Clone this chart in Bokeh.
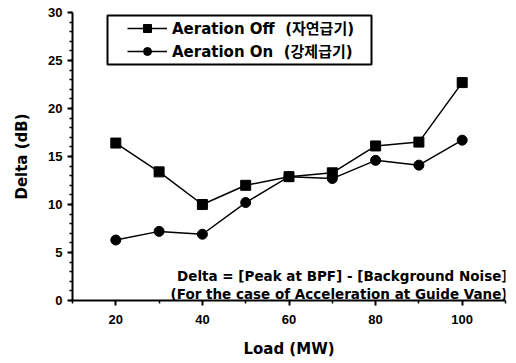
from bokeh.plotting import figure
from bokeh.models import Range1d, FixedTicker, Legend, LegendItem, Label, BoxAnnotation
from bokeh.embed import file_html
from bokeh.resources import INLINE

load = [20, 30, 40, 50, 60, 70, 80, 90, 100]
aeration_off = [16.4, 13.4, 10.0, 12.0, 12.9, 13.3, 16.1, 16.5, 22.7]
aeration_on = [6.3, 7.2, 6.9, 10.2, 12.9, 12.7, 14.6, 14.1, 16.7]
x_ticks = [20, 40, 60, 80, 100]
y_ticks = [0, 5, 10, 15, 20, 25, 30]
label_off = "Aeration Off  (자연급기)"
label_on = "Aeration On  (강제급기)"
note1 = "Delta = [Peak at BPF] - [Background Noise]"
note2 = "(For the case of Acceleration at Guide Vane)"

FONT = "DejaVu Sans, Noto Sans CJK KR, sans-serif"
TICKFONT = "Liberation Sans, Arial, sans-serif"

p = figure(width=516, height=363, output_backend="svg", toolbar_location=None,
           x_range=Range1d(10, 110), y_range=Range1d(0, 30),
           min_border_left=72, min_border_right=11, min_border_top=12, min_border_bottom=63)
p.outline_line_color = None
p.grid.visible = False

p.xaxis.ticker = FixedTicker(ticks=x_ticks, minor_ticks=[10, 30, 50, 70, 90, 110])
p.yaxis.ticker = FixedTicker(ticks=y_ticks, minor_ticks=[i for i in range(0, 31)])
for ax in (p.xaxis[0], p.yaxis[0]):
    ax.axis_line_width = 2
    ax.axis_line_color = "black"
    ax.major_tick_line_width = 2
    ax.major_tick_out = 5
    ax.major_tick_in = 0
    ax.minor_tick_out = 3
    ax.minor_tick_in = 0
    ax.minor_tick_line_width = 1.5
    ax.major_label_text_font = TICKFONT
    ax.major_label_text_font_style = "bold"
    ax.major_label_text_font_size = "13px"
    ax.major_label_text_color = "black"
    ax.axis_label_text_font = FONT
    ax.axis_label_text_font_style = "bold"
    ax.axis_label_text_font_size = "15px"
    ax.axis_label_text_color = "black"
p.xaxis.axis_label = "Load (MW)"
p.yaxis.axis_label = "Delta (dB)"
p.xaxis.major_label_standoff = 9
p.xaxis.axis_label_standoff = 13
p.yaxis.major_label_standoff = 5
p.yaxis.axis_label_standoff = 14

l1 = p.line(load, aeration_off, line_color="black", line_width=1.5)
m1 = p.scatter(load, aeration_off, marker="square", size=10, fill_color="black", line_color="black")
l2 = p.line(load, aeration_on, line_color="black", line_width=1.5)
m2 = p.scatter(load, aeration_on, marker="circle", size=10, fill_color="black", line_color="black")

box = BoxAnnotation(left=35, right=299, bottom=236, top=285,
                    left_units="screen", right_units="screen",
                    bottom_units="screen", top_units="screen",
                    fill_color="white", fill_alpha=1.0,
                    line_color="black", line_width=2, line_alpha=1.0)
p.add_layout(box)

legend = Legend(items=[LegendItem(label=label_off, renderers=[l1, m1]),
                       LegendItem(label=label_on, renderers=[l2, m2])],
                location=(55, 239))
legend.border_line_color = None
legend.background_fill_alpha = 0
legend.label_text_font = FONT
legend.label_text_font_style = "bold"
legend.label_text_font_size = "15px"
legend.label_text_color = "black"
legend.glyph_width = 40
legend.glyph_height = 20
legend.label_height = 20
legend.spacing = 2
legend.padding = 0
legend.margin = 0
legend.label_standoff = 5
p.add_layout(legend)

for txt, yy in ((note1, 25), (note2, 7)):
    lab = Label(x=507 - 72, y=yy, x_units="screen", y_units="screen", text=txt,
                text_align="right", text_baseline="middle", text_font=FONT,
                text_font_style="bold", text_font_size="13.5px", text_color="black")
    p.add_layout(lab)

open("out.html", "w").write(file_html(p, INLINE))
